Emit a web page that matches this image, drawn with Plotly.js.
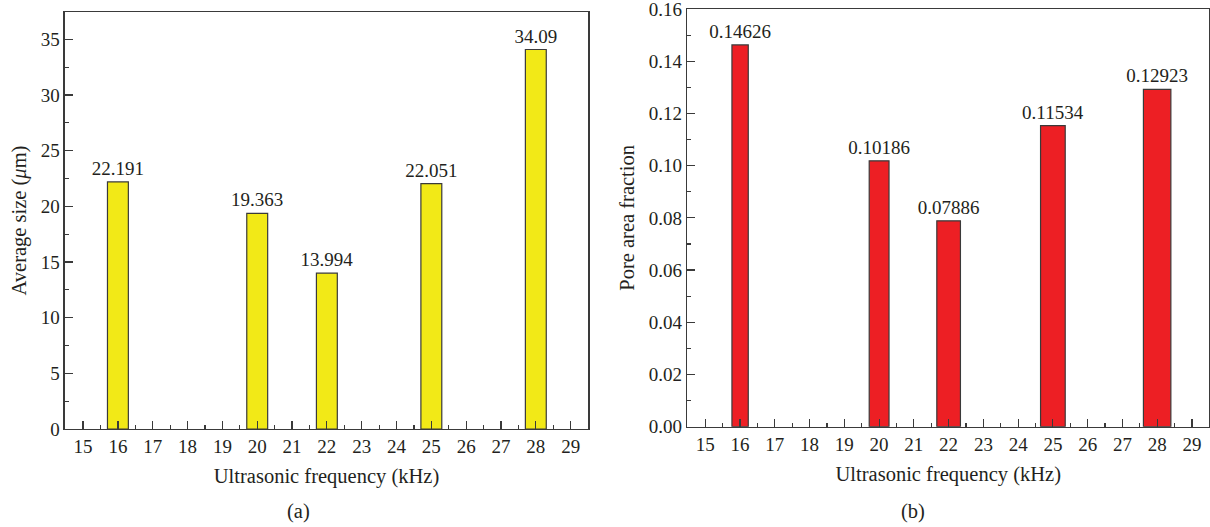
<!DOCTYPE html>
<html>
<head>
<meta charset="utf-8">
<script src="https://cdn.plot.ly/plotly-3.0.1.min.js"></script>
<style>html,body{margin:0;padding:0;background:#fff;}#chart{width:1210px;height:527px;}</style>
</head>
<body>
<div id="chart"></div>
<script>
// Data
const frequency = [16, 20, 22, 25, 28];
const averageSize = [22.191, 19.363, 13.994, 22.051, 34.09];
const poreAreaFraction = [0.14626, 0.10186, 0.07886, 0.11534, 0.12923];
const xTickValues = [15, 16, 17, 18, 19, 20, 21, 22, 23, 24, 25, 26, 27, 28, 29];
const leftYTicks = [0, 5, 10, 15, 20, 25, 30, 35];
const rightYTicks = [0, 0.02, 0.04, 0.06, 0.08, 0.10, 0.12, 0.14, 0.16];

// styles
const FONT = "Liberation Serif";
const FS = 19;
const TFS = 20.5;
const TXT = "#231f20";
const LINE = "#3a3a3a";
const leftWidths = [0.6, 0.6, 0.6, 0.6, 0.6];
const rightWidths = [0.47, 0.57, 0.68, 0.71, 0.79];

const traces = [
  {
    type: "bar", x: frequency, y: averageSize, xaxis: "x", yaxis: "y",
    width: leftWidths,
    marker: {color: "#f2e917", line: {color: LINE, width: 1.2}},
    text: averageSize.map(String), textposition: "outside", constraintext: "none",
    cliponaxis: false, textfont: {family: FONT, size: FS, color: TXT},
    hoverinfo: "skip", showlegend: false
  },
  {
    type: "bar", x: frequency, y: poreAreaFraction, xaxis: "x2", yaxis: "y2",
    width: rightWidths,
    marker: {color: "#ed1f24", line: {color: LINE, width: 1.2}},
    text: poreAreaFraction.map(String), textposition: "outside", constraintext: "none",
    cliponaxis: false, textfont: {family: FONT, size: FS, color: TXT},
    hoverinfo: "skip", showlegend: false
  }
];

function xAxis(domain, anchor) {
  return {
    domain: domain, anchor: anchor, range: [14.48, 29.5],
    tickmode: "array", tickvals: xTickValues, ticktext: xTickValues.map(String),
    ticks: "inside", ticklen: 8, tickwidth: 1.2, tickcolor: LINE,
    minor: {ticks: "inside", ticklen: 4, tickwidth: 1.2, tickcolor: LINE, dtick: 0.5, tick0: 14.5, showgrid: false},
    showline: true, linecolor: LINE, linewidth: 1.5, mirror: true,
    showgrid: false, zeroline: false,
    tickfont: {family: FONT, size: FS, color: TXT},
    title: {text: "Ultrasonic frequency (kHz)", font: {family: FONT, size: TFS, color: TXT}, standoff: 12}
  };
}

const layout = {
  width: 1210, height: 527,
  margin: {l: 0, r: 0, t: 0, b: 0},
  paper_bgcolor: "#ffffff", plot_bgcolor: "#ffffff",
  bargap: 0,
  xaxis: xAxis([0.0537, 0.486], "y"),
  xaxis2: xAxis([0.568, 0.9994], "y2"),
  yaxis: {
    domain: [0.186, 0.977], anchor: "x", range: [0, 37.45],
    tickmode: "array", tickvals: leftYTicks, ticktext: leftYTicks.map(String),
    ticks: "inside", ticklen: 8, tickwidth: 1.2, tickcolor: LINE,
    minor: {ticks: "inside", ticklen: 4, tickwidth: 1.2, tickcolor: LINE, dtick: 2.5, tick0: 0, showgrid: false},
    showline: true, linecolor: LINE, linewidth: 1.5, mirror: true,
    showgrid: false, zeroline: false, ticklabeloverflow: "allow",
    tickfont: {family: FONT, size: FS, color: TXT},
    title: {text: "Average size (<i>μ</i>m)", font: {family: FONT, size: TFS, color: TXT}, standoff: 8}
  },
  yaxis2: {
    domain: [0.1903, 0.9829], anchor: "x2", range: [0, 0.16],
    tickmode: "array", tickvals: rightYTicks, ticktext: rightYTicks.map(v => v.toFixed(2)),
    ticks: "inside", ticklen: 8, tickwidth: 1.2, tickcolor: LINE,
    minor: {ticks: "inside", ticklen: 4, tickwidth: 1.2, tickcolor: LINE, dtick: 0.01, tick0: 0, showgrid: false},
    showline: true, linecolor: LINE, linewidth: 1.5, mirror: true,
    showgrid: false, zeroline: false, ticklabeloverflow: "allow",
    tickfont: {family: FONT, size: FS, color: TXT},
    title: {text: "Pore area fraction", font: {family: FONT, size: TFS, color: TXT}, standoff: 8}
  },
  annotations: [
    {text: "(a)", xref: "paper", yref: "paper", x: 298 / 1210, y: 1 - 511 / 527, xanchor: "center", yanchor: "middle", showarrow: false, font: {family: FONT, size: TFS, color: TXT}},
    {text: "(b)", xref: "paper", yref: "paper", x: 913 / 1210, y: 1 - 511 / 527, xanchor: "center", yanchor: "middle", showarrow: false, font: {family: FONT, size: TFS, color: TXT}}
  ]
};

Plotly.newPlot("chart", traces, layout, {displayModeBar: false, staticPlot: true});
</script>
</body>
</html>
